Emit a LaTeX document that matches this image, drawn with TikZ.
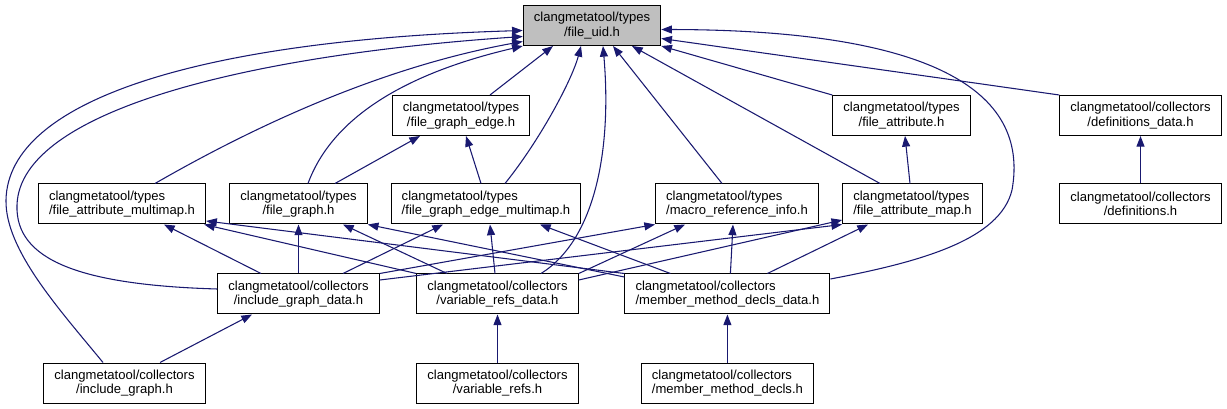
\documentclass[tikz,border=0pt]{standalone}
\usepackage{fontspec}
\setmainfont{Liberation Sans}
\usepackage{xcolor}
\usepackage{tikz}
\usetikzlibrary{arrows.meta,calc}
\definecolor{DOXedge}{HTML}{191970}
\definecolor{DOXgray}{HTML}{BFBFBF}
\tikzset{
  hfile/.style={draw=black, line width=0.75pt, fill=white, minimum height=30pt,
    inner xsep=8pt, inner ysep=2pt, font=\fontsize{9.8}{10.9}\selectfont, align=center},
  hfileL/.style={hfile, align=left},
  incl/.style={DOXedge, line width=0.8pt, -{Triangle[length=8pt,width=6pt]}},
}

\begin{document}
\begin{tikzpicture}[x=0.75pt, y=-0.75pt]
  \useasboundingbox (0,0) rectangle (1227,409);

  % header boxes
  \node[hfile, fill=DOXgray] (uid) at (592,25.5) {clangmetatool/types\\/file\_uid.h};
  \node[hfile] (fge) at (461,115.5) {clangmetatool/types\\/file\_graph\_edge.h};
  \node[hfile] (fa) at (901.5,115.5) {clangmetatool/types\\/file\_attribute.h};
  \node[hfile] (dd) at (1140.5,115.5) {clangmetatool/collectors\\/definitions\_data.h};
  \node[hfileL] (fam) at (122,204) {clangmetatool/types\\/file\_attribute\_multimap.h};
  \node[hfile] (fg) at (298.5,204) {clangmetatool/types\\/file\_graph.h};
  \node[hfileL] (fgem) at (486,204) {clangmetatool/types\\/file\_graph\_edge\_multimap.h};
  \node[hfileL] (mri) at (737,204) {clangmetatool/types\\/macro\_reference\_info.h};
  \node[hfileL] (fmap) at (912.5,204) {clangmetatool/types\\/file\_attribute\_map.h};
  \node[hfile] (defs) at (1140.5,204) {clangmetatool/collectors\\/definitions.h};
  \node[hfile] (igd) at (298.5,294) {clangmetatool/collectors\\/include\_graph\_data.h};
  \node[hfile] (vrd) at (497.5,294) {clangmetatool/collectors\\/variable\_refs\_data.h};
  \node[hfileL] (mmdd) at (727.4,294) {clangmetatool/collectors\\/member\_method\_decls\_data.h};
  \node[hfile] (ig) at (124.5,383) {clangmetatool/collectors\\/include\_graph.h};
  \node[hfile] (vr) at (497.5,383) {clangmetatool/collectors\\/variable\_refs.h};
  \node[hfileL] (mmd) at (727.4,383) {clangmetatool/collectors\\/member\_method\_decls.h};

  % includes of file_uid.h
  \draw[incl] ($(ig.north)+(-21.5,0)$) .. controls (60,310) and (5,250) .. (6,200)
    .. controls (8,100) and (200,40) .. ($(uid.west)+(0,5)$);
  \draw[incl] ($(igd.west)+(0,-5)$) .. controls (80,285) and (15,260) .. (17,205)
    .. controls (20,110) and (250,55) .. ($(uid.west)+(0,11)$);
  \draw[incl] ($(fam.north)+(33,0)$) .. controls (300,100) and (420,60) .. ($(uid.west)+(0,16)$);
  \draw[incl] ($(fg.north)+(9.5,0)$) .. controls (335,110) and (420,70) .. (uid.south west);
  \draw[incl] ($(fge.north)+(29,0)$) -- ($(uid.south)+(-39,0)$);
  \draw[incl] ($(fgem.north)+(19,0)$) .. controls (540,140) and (572,80) .. ($(uid.south)+(-11,0)$);
  \draw[incl] ($(vrd.north)+(43.5,0)$) .. controls (595,240) and (612,150) .. ($(uid.south)+(11,0)$);
  \draw[incl] ($(mri.north)+(-15,0)$) -- ($(uid.south)+(21,0)$);
  \draw[incl] ($(fmap.north)+(-32.5,0)$) -- ($(uid.south)+(40,0)$);
  \draw[incl] ($(mmdd.east)+(0,-15)$) .. controls (920,262) and (1000,240) .. (1012,190)
    .. controls (1030,90) and (930,30) .. ($(uid.east)+(0,4)$);
  \draw[incl] (fa.north west) -- (uid.south east);
  \draw[incl] (dd.north west) -- ($(uid.east)+(0,13)$);

  % second level
  \draw[incl] ($(fg.north)+(36.5,0)$) -- ($(fge.south)+(-41,0)$);
  \draw[incl] ($(fgem.north)+(-5,0)$) -- ($(fge.south)+(5,0)$);
  \draw[incl] ($(fmap.north)+(-2.5,0)$) -- ($(fa.south)+(3.5,0)$);
  \draw[incl] (defs.north) -- (dd.south);

  % collectors data
  \draw[incl] ($(igd.north)+(-37.5,0)$) -- ($(fam.south)+(42,0)$);
  \draw[incl] (vrd.north west) -- ($(fam.south east)+(-2,0)$);
  \draw[incl] (mmdd.north west) -- ($(fam.east)+(0,17)$);
  \draw[incl] (igd.north) -- (fg.south);
  \draw[incl] ($(vrd.north)+(-50.5,0)$) -- ($(fg.south)+(44.5,0)$);
  \draw[incl] ($(mmdd.west)+(0,-17)$) -- (fg.south east);
  \draw[incl] ($(igd.north)+(44.5,0)$) -- ($(fgem.south)+(-43,0)$);
  \draw[incl] ($(vrd.north)+(-2.5,0)$) -- ($(fgem.south)+(4,0)$);
  \draw[incl] ($(mmdd.north)+(-57,0)$) -- ($(fgem.south)+(54,0)$);
  \draw[incl] (igd.north east) -- (mri.south west);
  \draw[incl] (vrd.north east) -- ($(mri.south)+(-52,0)$);
  \draw[incl] ($(mmdd.north)+(3,0)$) -- ($(mri.south)+(-4,0)$);
  \draw[incl] ($(igd.east)+(0,-14)$) -- (fmap.south west);
  \draw[incl] ($(vrd.east)+(0,-14)$) -- ($(fmap.west)+(0,16)$);
  \draw[incl] ($(mmdd.north)+(40,0)$) -- ($(fmap.south)+(-44.5,0)$);

  % collectors
  \draw[incl] ($(ig.north)+(35.5,0)$) -- ($(igd.south)+(-46.5,0)$);
  \draw[incl] (vr.north) -- (vrd.south);
  \draw[incl] (mmd.north) -- (mmdd.south);
\end{tikzpicture}
\end{document}
